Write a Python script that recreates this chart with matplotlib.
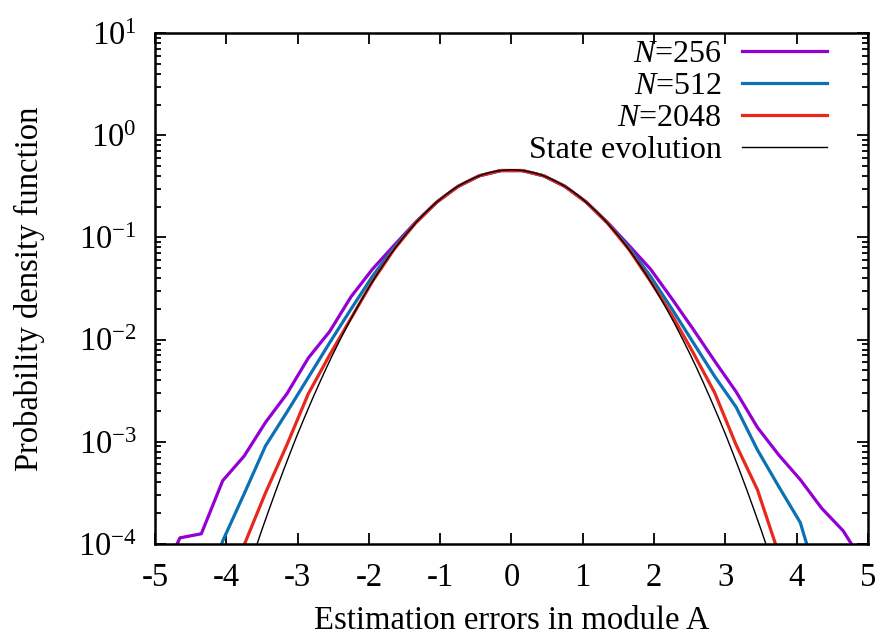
import matplotlib
matplotlib.use("Agg")
import matplotlib.pyplot as plt
from matplotlib.ticker import FixedLocator, LogLocator, NullFormatter
import numpy as np

plt.rcParams['font.family'] = ['Liberation Serif', 'DejaVu Serif']
plt.rcParams['mathtext.fontset'] = 'custom'
plt.rcParams['mathtext.rm'] = 'Liberation Serif'
plt.rcParams['mathtext.it'] = 'Liberation Serif:italic'
plt.rcParams['axes.unicode_minus'] = False

# histogram bin centres (estimation error)
bins = [-4.95, -4.65, -4.35, -4.05, -3.75, -3.45, -3.15, -2.85, -2.55, -2.25,
        -1.95, -1.65, -1.35, -1.05, -0.75, -0.45, -0.15, 0.15, 0.45, 0.75,
        1.05, 1.35, 1.65, 1.95, 2.25, 2.55, 2.85, 3.15, 3.45, 3.75,
        4.05, 4.35, 4.65, 4.95]

nan = np.nan
# log10 of the pdf
log_n256 = [-4.4, -3.94, -3.90, -3.38, -3.14, -2.81, -2.53, -2.18, -1.92, -1.58,
            -1.31, -1.08, -0.855, -0.655, -0.50, -0.396, -0.345, -0.345, -0.396, -0.50,
            -0.655, -0.855, -1.08, -1.31, -1.60, -1.90, -2.21, -2.51, -2.86, -3.13,
            -3.37, -3.65, -3.87, -4.2]
log_n512 = [nan, nan, -4.6, -3.97, -3.51, -3.04, -2.71, -2.37, -2.03, -1.70,
            -1.38, -1.10, -0.86, -0.655, -0.50, -0.396, -0.345, -0.345, -0.396, -0.50,
            -0.655, -0.86, -1.10, -1.38, -1.70, -2.03, -2.36, -2.66, -3.08, -3.44,
            -3.79, -4.49, nan, nan]
log_n2048 = [nan, nan, nan, -4.6, -4.01, -3.50, -3.03, -2.53, -2.15, -1.79,
             -1.43, -1.12, -0.862, -0.655, -0.50, -0.396, -0.345, -0.345, -0.396, -0.50,
             -0.655, -0.862, -1.12, -1.43, -1.76, -2.13, -2.52, -3.03, -3.47, -4.1,
             nan, nan, nan, nan]

# state evolution curve, right half (x = 0.0 ... 3.8 step 0.1), symmetric
se_x_half = [0.0, 0.1, 0.2, 0.3, 0.4, 0.5, 0.6, 0.7, 0.8, 0.9,
             1.0, 1.1, 1.2, 1.3, 1.4, 1.5, 1.6, 1.7, 1.8, 1.9,
             2.0, 2.1, 2.2, 2.3, 2.4, 2.5, 2.6, 2.7, 2.8, 2.9,
             3.0, 3.1, 3.2, 3.3, 3.4, 3.5, 3.6, 3.7, 3.8]
se_pdf_half = [0.459, 0.456, 0.447, 0.433, 0.413, 0.389, 0.361, 0.332, 0.301, 0.269,
               0.237, 0.206, 0.177, 0.150, 0.125, 0.1035, 0.0843, 0.0678, 0.0537, 0.0421,
               0.0325, 0.0248, 0.0186, 0.0138, 0.0101, 0.00731, 0.00522, 0.00367, 0.00255, 0.00175,
               0.00119, 0.000791, 0.000521, 0.000339, 0.000217, 0.000138, 8.6e-5, 5.3e-5, 3.2e-5]
se_x = [-v for v in se_x_half[::-1]] + se_x_half[1:]
se_pdf = se_pdf_half[::-1] + se_pdf_half[1:]

fig = plt.figure(figsize=(8.79, 6.37), dpi=100)
ax = fig.add_axes([0.1763, 0.146, 0.8112, 0.802])

ax.plot(bins, 10 ** np.array(log_n256), color='#9400d3', lw=2.3, label=r'$\mathit{N}$=256')
ax.plot(bins, 10 ** np.array(log_n512), color='#0a72b4', lw=2.3, label=r'$\mathit{N}$=512')
ax.plot(bins, 10 ** np.array(log_n2048), color='#e8281c', lw=2.3, label=r'$\mathit{N}$=2048')
ax.plot(se_x, se_pdf, color='black', lw=1.0, label='State evolution')

ax.set_yscale('log')
ax.set_xlim(-5, 5)
ax.set_ylim(1e-4, 1e1)
ax.xaxis.set_major_locator(FixedLocator(range(-5, 6)))
ax.set_xticklabels([str(v) for v in range(-5, 6)])
ax.yaxis.set_major_locator(FixedLocator([1e-4, 1e-3, 1e-2, 1e-1, 1e0, 1e1]))
ax.set_yticklabels([r'$\mathregular{10^{%d}}$' % e for e in range(-4, 2)])
ax.yaxis.set_minor_locator(LogLocator(base=10, subs=range(2, 10), numticks=20))
ax.yaxis.set_minor_formatter(NullFormatter())

ax.tick_params(which='both', direction='in', top=True, right=True, labelsize=23.5, width=1.3)
ax.tick_params(which='major', length=8)
ax.tick_params(axis='x', which='major', pad=13)
ax.tick_params(axis='y', which='major', pad=13)
ax.tick_params(which='minor', length=4)
for s in ax.spines.values():
    s.set_linewidth(1.8)

ax.set_xlabel('Estimation errors in module A', fontsize=23.5, labelpad=9)
ax.set_ylabel('Probability density function', fontsize=23.5, labelpad=24)

leg = ax.legend(loc='upper right', frameon=False, markerfirst=False, fontsize=23,
                handlelength=2.66, handletextpad=0.62, labelspacing=0.08,
                borderaxespad=0.0, bbox_to_anchor=(0.96, 1.012))

fig.savefig('out.png', dpi=100)
